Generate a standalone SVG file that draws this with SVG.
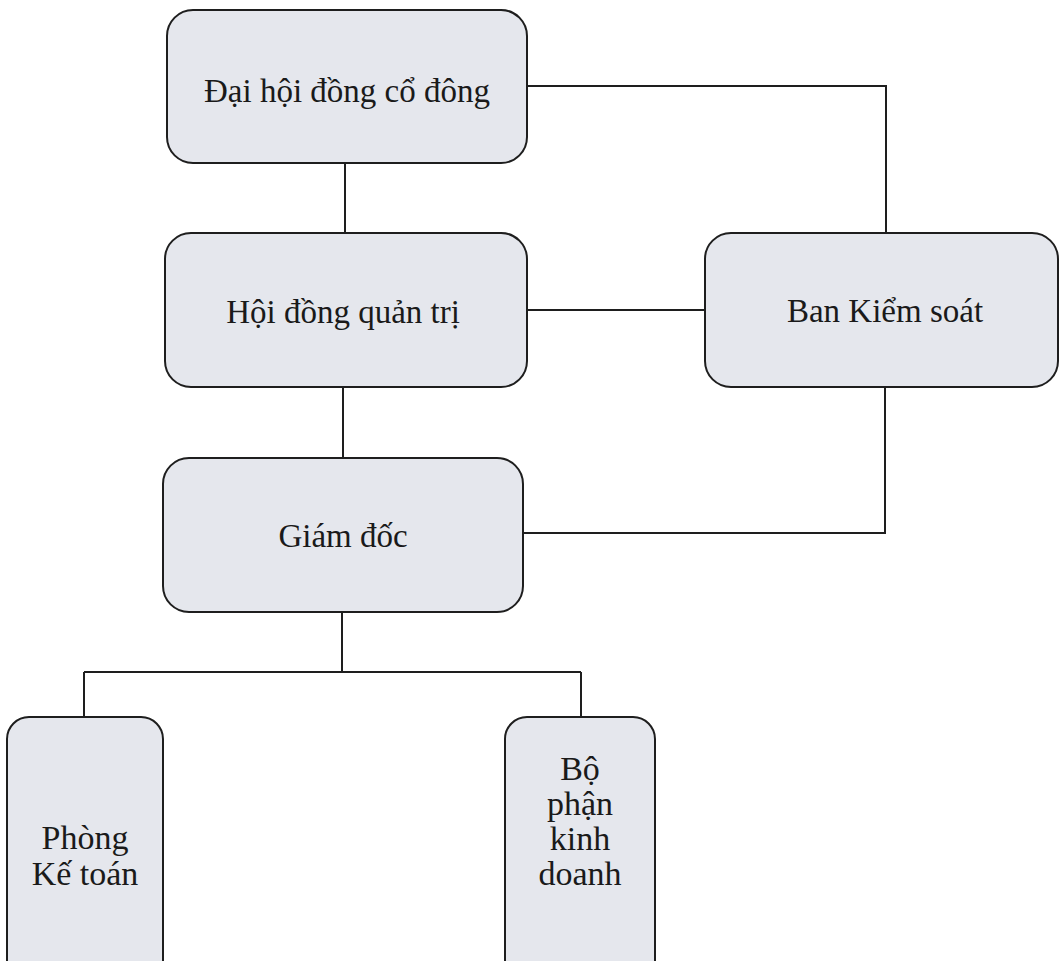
<svg xmlns="http://www.w3.org/2000/svg" width="1059" height="961" viewBox="0 0 1059 961">
<style>
.box{fill:#e5e7ed;stroke:#1e1e1e;stroke-width:2}
.lbl{font-family:"Liberation Serif","Times New Roman",serif;font-size:33px;fill:#1a1a1a;text-anchor:middle}
.lbl2{font-family:"Liberation Serif","Times New Roman",serif;font-size:34px;fill:#1a1a1a;text-anchor:middle}
.conn{fill:none;stroke:#1e1e1e;stroke-width:2}
</style>
<rect width="1059" height="961" fill="#ffffff"/>
<g id="connectors">
<path class="conn" d="M345,163 V233"/>
<path class="conn" d="M527,86 H886 V233"/>
<path class="conn" d="M527,310 H705"/>
<path class="conn" d="M343,387 V458"/>
<path class="conn" d="M523,533 H885 V387"/>
<path class="conn" d="M342,612 V672 M84,672 H581 M84,672 V717 M581,672 V717"/>
</g>
<g id="dhdcd">
<rect class="box" x="167" y="10" width="360" height="153" rx="26"/>
<text class="lbl" x="347" y="102">Đại hội đồng cổ đông</text>
</g>
<g id="hdqt">
<rect class="box" x="165" y="233" width="362" height="154" rx="26"/>
<text class="lbl" x="343" y="323">Hội đồng quản trị</text>
</g>
<g id="bks">
<rect class="box" x="705" y="233" width="353" height="154" rx="26"/>
<text class="lbl" x="885" y="322">Ban Kiểm soát</text>
</g>
<g id="gd">
<rect class="box" x="163" y="458" width="360" height="154" rx="26"/>
<text class="lbl" x="343" y="547">Giám đốc</text>
</g>
<g id="pkt">
<rect class="box" x="7" y="717" width="156" height="270" rx="22"/>
<text class="lbl2" x="85" y="849">Phòng</text>
<text class="lbl2" x="85" y="885">Kế toán</text>
</g>
<g id="bpkd">
<rect class="box" x="505" y="717" width="150" height="270" rx="22"/>
<text class="lbl2" x="580" y="780">Bộ</text>
<text class="lbl2" x="580" y="815">phận</text>
<text class="lbl2" x="580" y="850">kinh</text>
<text class="lbl2" x="580" y="885">doanh</text>
</g>
</svg>
